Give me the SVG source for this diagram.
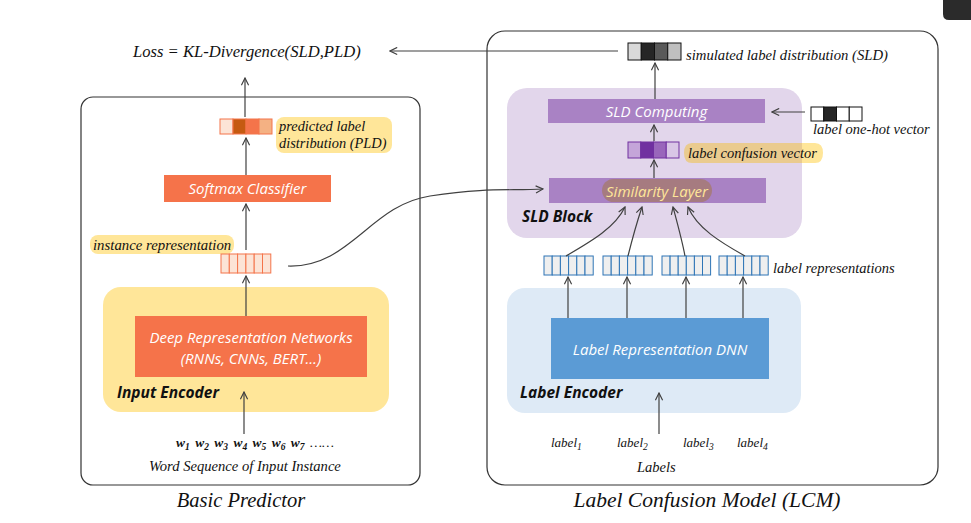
<svg xmlns="http://www.w3.org/2000/svg" width="971" height="523" viewBox="0 0 971 523">
<style>
.panel{fill:none;stroke:#333;stroke-width:1.2}
.ser{font-family:"Liberation Serif","Times New Roman",serif;font-style:italic;fill:#111}
.sans{font-family:"Open Sans","Noto Sans",sans-serif;font-style:italic;fill:#fff;font-size:15px}
.bold{font-family:"Open Sans","Noto Sans",sans-serif;font-style:italic;font-weight:bold;fill:#111;font-size:15.5px}
.conn{fill:none;stroke:#404040;stroke-width:1.2}
.oc{stroke:#F4744A;stroke-width:1}
.bc{fill:#EFEFEF;stroke:#2E75B6;stroke-width:1}
</style>
<defs>
<marker id="ah" viewBox="0 0 10 10" refX="9" refY="5" markerWidth="9" markerHeight="9" markerUnits="userSpaceOnUse" orient="auto">
<path d="M1,1 L9,5 L1,9" fill="none" stroke="#404040" stroke-width="1.3"/>
</marker>
</defs>
<rect width="971" height="523" fill="#fff"/>
<path d="M943,0 H971 V20 H949 Q943,20 943,14 Z" fill="#2b2b2b"/>

<g id="panel-basic">
<rect class="panel" x="81" y="97" width="339" height="388" rx="12"/>
<text class="ser" x="241" y="507" font-size="20.5" text-anchor="middle">Basic Predictor</text>
</g>
<g id="panel-lcm">
<rect class="panel" x="487" y="31" width="451" height="454" rx="18"/>
<text class="ser" x="707" y="507" font-size="21.5" text-anchor="middle">Label Confusion Model (LCM)</text>
</g>

<g id="loss">
<text class="ser" x="133" y="57" font-size="16.6">Loss = KL-Divergence(SLD,PLD)</text>
</g>

<g id="pld">
<rect x="220" y="119" width="13" height="15" fill="#FCE4D6" class="oc"/>
<rect x="233" y="119" width="13" height="15" fill="#C55A11" class="oc"/>
<rect x="246" y="119" width="13" height="15" fill="#F4744A" class="oc"/>
<rect x="259" y="119" width="13" height="15" fill="#F4B183" class="oc"/>
<rect x="276" y="117" width="116" height="36" rx="8" fill="#FFE699"/>
<text class="ser" x="279" y="131" font-size="14.4">predicted label</text>
<text class="ser" x="279" y="148" font-size="14.4">distribution (PLD)</text>
</g>

<g id="softmax">
<rect x="164" y="175" width="167" height="27" fill="#F5734A"/>
<text class="sans" x="247.5" y="194" text-anchor="middle">Softmax Classifier</text>
</g>

<g id="instance-rep">
<rect x="90" y="235" width="144" height="19" rx="8" fill="#FFE699"/>
<text class="ser" x="93" y="249.5" font-size="14.8">instance representation</text>
<g fill="#FCE4D6" class="oc">
<rect x="221" y="254" width="8.3" height="19"/><rect x="229.3" y="254" width="8.3" height="19"/><rect x="237.6" y="254" width="8.3" height="19"/><rect x="245.9" y="254" width="8.3" height="19"/><rect x="254.2" y="254" width="8.3" height="19"/><rect x="262.5" y="254" width="8.3" height="19"/>
</g>
</g>

<g id="input-encoder">
<rect x="103" y="287" width="286" height="125" rx="18" fill="#FFE699"/>
<rect x="135" y="316" width="232" height="61" fill="#F5734A"/>
<text class="sans" x="251" y="343" text-anchor="middle">Deep Representation Networks</text>
<text class="sans" x="251" y="364" text-anchor="middle">(RNNs, CNNs, BERT…)</text>
<text class="bold" x="117" y="398">Input Encoder</text>
</g>

<g id="word-seq">
<text class="ser" x="176" y="447" font-size="13.5" font-weight="bold" word-spacing="2">w<tspan font-size="9.5" dy="3">1</tspan><tspan dy="-3"> w</tspan><tspan font-size="9.5" dy="3">2</tspan><tspan dy="-3"> w</tspan><tspan font-size="9.5" dy="3">3</tspan><tspan dy="-3"> w</tspan><tspan font-size="9.5" dy="3">4</tspan><tspan dy="-3"> w</tspan><tspan font-size="9.5" dy="3">5</tspan><tspan dy="-3"> w</tspan><tspan font-size="9.5" dy="3">6</tspan><tspan dy="-3"> w</tspan><tspan font-size="9.5" dy="3">7</tspan><tspan dy="-3" font-weight="normal"> ……</tspan></text>
<text class="ser" x="149" y="470.5" font-size="14.6">Word Sequence of Input Instance</text>
</g>

<g id="sld">
<rect x="628" y="43" width="13.25" height="17" fill="#D9D9D9" stroke="#111"/>
<rect x="641.25" y="43" width="13.25" height="17" fill="#262626" stroke="#111"/>
<rect x="654.5" y="43" width="13.25" height="17" fill="#595959" stroke="#111"/>
<rect x="667.75" y="43" width="13.25" height="17" fill="#BFBFBF" stroke="#111"/>
<text class="ser" x="686" y="59.5" font-size="14.7">simulated label distribution (SLD)</text>
</g>

<g id="sld-block">
<rect x="507" y="88" width="295" height="150" rx="20" fill="#E2D6EB"/>
<text class="bold" x="522" y="222">SLD Block</text>
</g>

<g id="sld-computing">
<rect x="548" y="99" width="217" height="24" fill="#A982C4"/>
<text class="sans" x="656.5" y="116.5" text-anchor="middle">SLD Computing</text>
</g>

<g id="confusion-vector">
<rect x="628" y="142" width="12.75" height="16" fill="#C4A5D9" stroke="#7030A0"/>
<rect x="640.75" y="142" width="12.75" height="16" fill="#7030A0" stroke="#7030A0"/>
<rect x="653.5" y="142" width="12.75" height="16" fill="#9966BB" stroke="#7030A0"/>
<rect x="666.25" y="142" width="12.75" height="16" fill="#D9C6E6" stroke="#7030A0"/>
<path d="M692,143 H802 V163 H692 Q684,163 684,153 Q684,143 692,143 Z" fill="#EACB8F"/>
<path d="M802,143 H815 Q823,143 823,153 Q823,163 815,163 H802 Z" fill="#FFE699"/>
<text class="ser" x="688" y="158" font-size="14.5">label confusion vector</text>
</g>

<g id="similarity">
<rect x="549" y="178" width="217" height="25" fill="#A982C4"/>
<rect x="602" y="179" width="110" height="23" rx="11.5" fill="#A67B80"/>
<text class="sans" x="657" y="196.5" text-anchor="middle" style="fill:#FFE699">Similarity Layer</text>
</g>

<g id="one-hot">
<rect x="811" y="107" width="12.75" height="14" fill="#fff" stroke="#111"/>
<rect x="823.75" y="107" width="12.75" height="14" fill="#262626" stroke="#111"/>
<rect x="836.5" y="107" width="12.75" height="14" fill="#fff" stroke="#111"/>
<rect x="849.25" y="107" width="12.75" height="14" fill="#fff" stroke="#111"/>
<text class="ser" x="813" y="134" font-size="14.5">label one-hot vector</text>
</g>

<g id="label-reps">
<g class="bc">
<rect x="544" y="256" width="8.2" height="19"/><rect x="552.2" y="256" width="8.2" height="19"/><rect x="560.4" y="256" width="8.2" height="19"/><rect x="568.6" y="256" width="8.2" height="19"/><rect x="576.8" y="256" width="8.2" height="19"/><rect x="585" y="256" width="8.2" height="19"/>
<rect x="603" y="256" width="8.2" height="19"/><rect x="611.2" y="256" width="8.2" height="19"/><rect x="619.4" y="256" width="8.2" height="19"/><rect x="627.6" y="256" width="8.2" height="19"/><rect x="635.8" y="256" width="8.2" height="19"/><rect x="644" y="256" width="8.2" height="19"/>
<rect x="662" y="256" width="8.1" height="19"/><rect x="670.1" y="256" width="8.1" height="19"/><rect x="678.2" y="256" width="8.1" height="19"/><rect x="686.3" y="256" width="8.1" height="19"/><rect x="694.4" y="256" width="8.1" height="19"/><rect x="702.5" y="256" width="8.1" height="19"/>
<rect x="719" y="256" width="8.2" height="19"/><rect x="727.2" y="256" width="8.2" height="19"/><rect x="735.4" y="256" width="8.2" height="19"/><rect x="743.6" y="256" width="8.2" height="19"/><rect x="751.8" y="256" width="8.2" height="19"/><rect x="760" y="256" width="8.2" height="19"/>
</g>
<text class="ser" x="773" y="273" font-size="14.5">label representations</text>
</g>

<g id="label-encoder">
<rect x="507" y="288" width="294" height="125" rx="18" fill="#DEEAF6"/>
<rect x="551" y="318" width="218" height="61" fill="#5B9BD5"/>
<text class="sans" x="660" y="354.5" text-anchor="middle">Label Representation DNN</text>
<text class="bold" x="520" y="398">Label Encoder</text>
</g>

<g id="labels">
<text class="ser" x="551" y="447" font-size="13">label<tspan font-size="9.5" dy="3">1</tspan></text>
<text class="ser" x="617" y="447" font-size="13">label<tspan font-size="9.5" dy="3">2</tspan></text>
<text class="ser" x="683" y="447" font-size="13">label<tspan font-size="9.5" dy="3">3</tspan></text>
<text class="ser" x="737" y="447" font-size="13">label<tspan font-size="9.5" dy="3">4</tspan></text>
<text class="ser" x="637" y="472" font-size="14.5">Labels</text>
</g>

<g id="connectors">
<line class="conn" x1="618" y1="51" x2="390" y2="51" marker-end="url(#ah)"/>
<line class="conn" x1="245" y1="117" x2="245" y2="78" marker-end="url(#ah)"/>
<line class="conn" x1="246" y1="175" x2="246" y2="138" marker-end="url(#ah)"/>
<line class="conn" x1="246" y1="250" x2="246" y2="204" marker-end="url(#ah)"/>
<line class="conn" x1="246" y1="316" x2="246" y2="276" marker-end="url(#ah)"/>
<line class="conn" x1="244" y1="434" x2="244" y2="392" marker-end="url(#ah)"/>
<path class="conn" d="M288,266 C350,268 370,205 430,196 S510,191 543,189" marker-end="url(#ah)"/>
<line class="conn" x1="655" y1="99" x2="655" y2="63" marker-end="url(#ah)"/>
<line class="conn" x1="805" y1="112" x2="772" y2="112" marker-end="url(#ah)"/>
<line class="conn" x1="654" y1="141" x2="654" y2="125" marker-end="url(#ah)"/>
<line class="conn" x1="654" y1="178" x2="654" y2="160" marker-end="url(#ah)"/>
<path class="conn" d="M566,256 C590,242 615,228 625,207" marker-end="url(#ah)"/>
<path class="conn" d="M628,256 C632,240 637,222 642,207" marker-end="url(#ah)"/>
<path class="conn" d="M685,256 C682,240 677,222 673,207" marker-end="url(#ah)"/>
<path class="conn" d="M745,256 C720,242 697,228 688,207" marker-end="url(#ah)"/>
<line class="conn" x1="568" y1="318" x2="568" y2="277" marker-end="url(#ah)"/>
<line class="conn" x1="627" y1="318" x2="627" y2="277" marker-end="url(#ah)"/>
<line class="conn" x1="686" y1="318" x2="686" y2="277" marker-end="url(#ah)"/>
<line class="conn" x1="743" y1="318" x2="743" y2="277" marker-end="url(#ah)"/>
<line class="conn" x1="659" y1="434" x2="659" y2="393" marker-end="url(#ah)"/>
</g>
</svg>
